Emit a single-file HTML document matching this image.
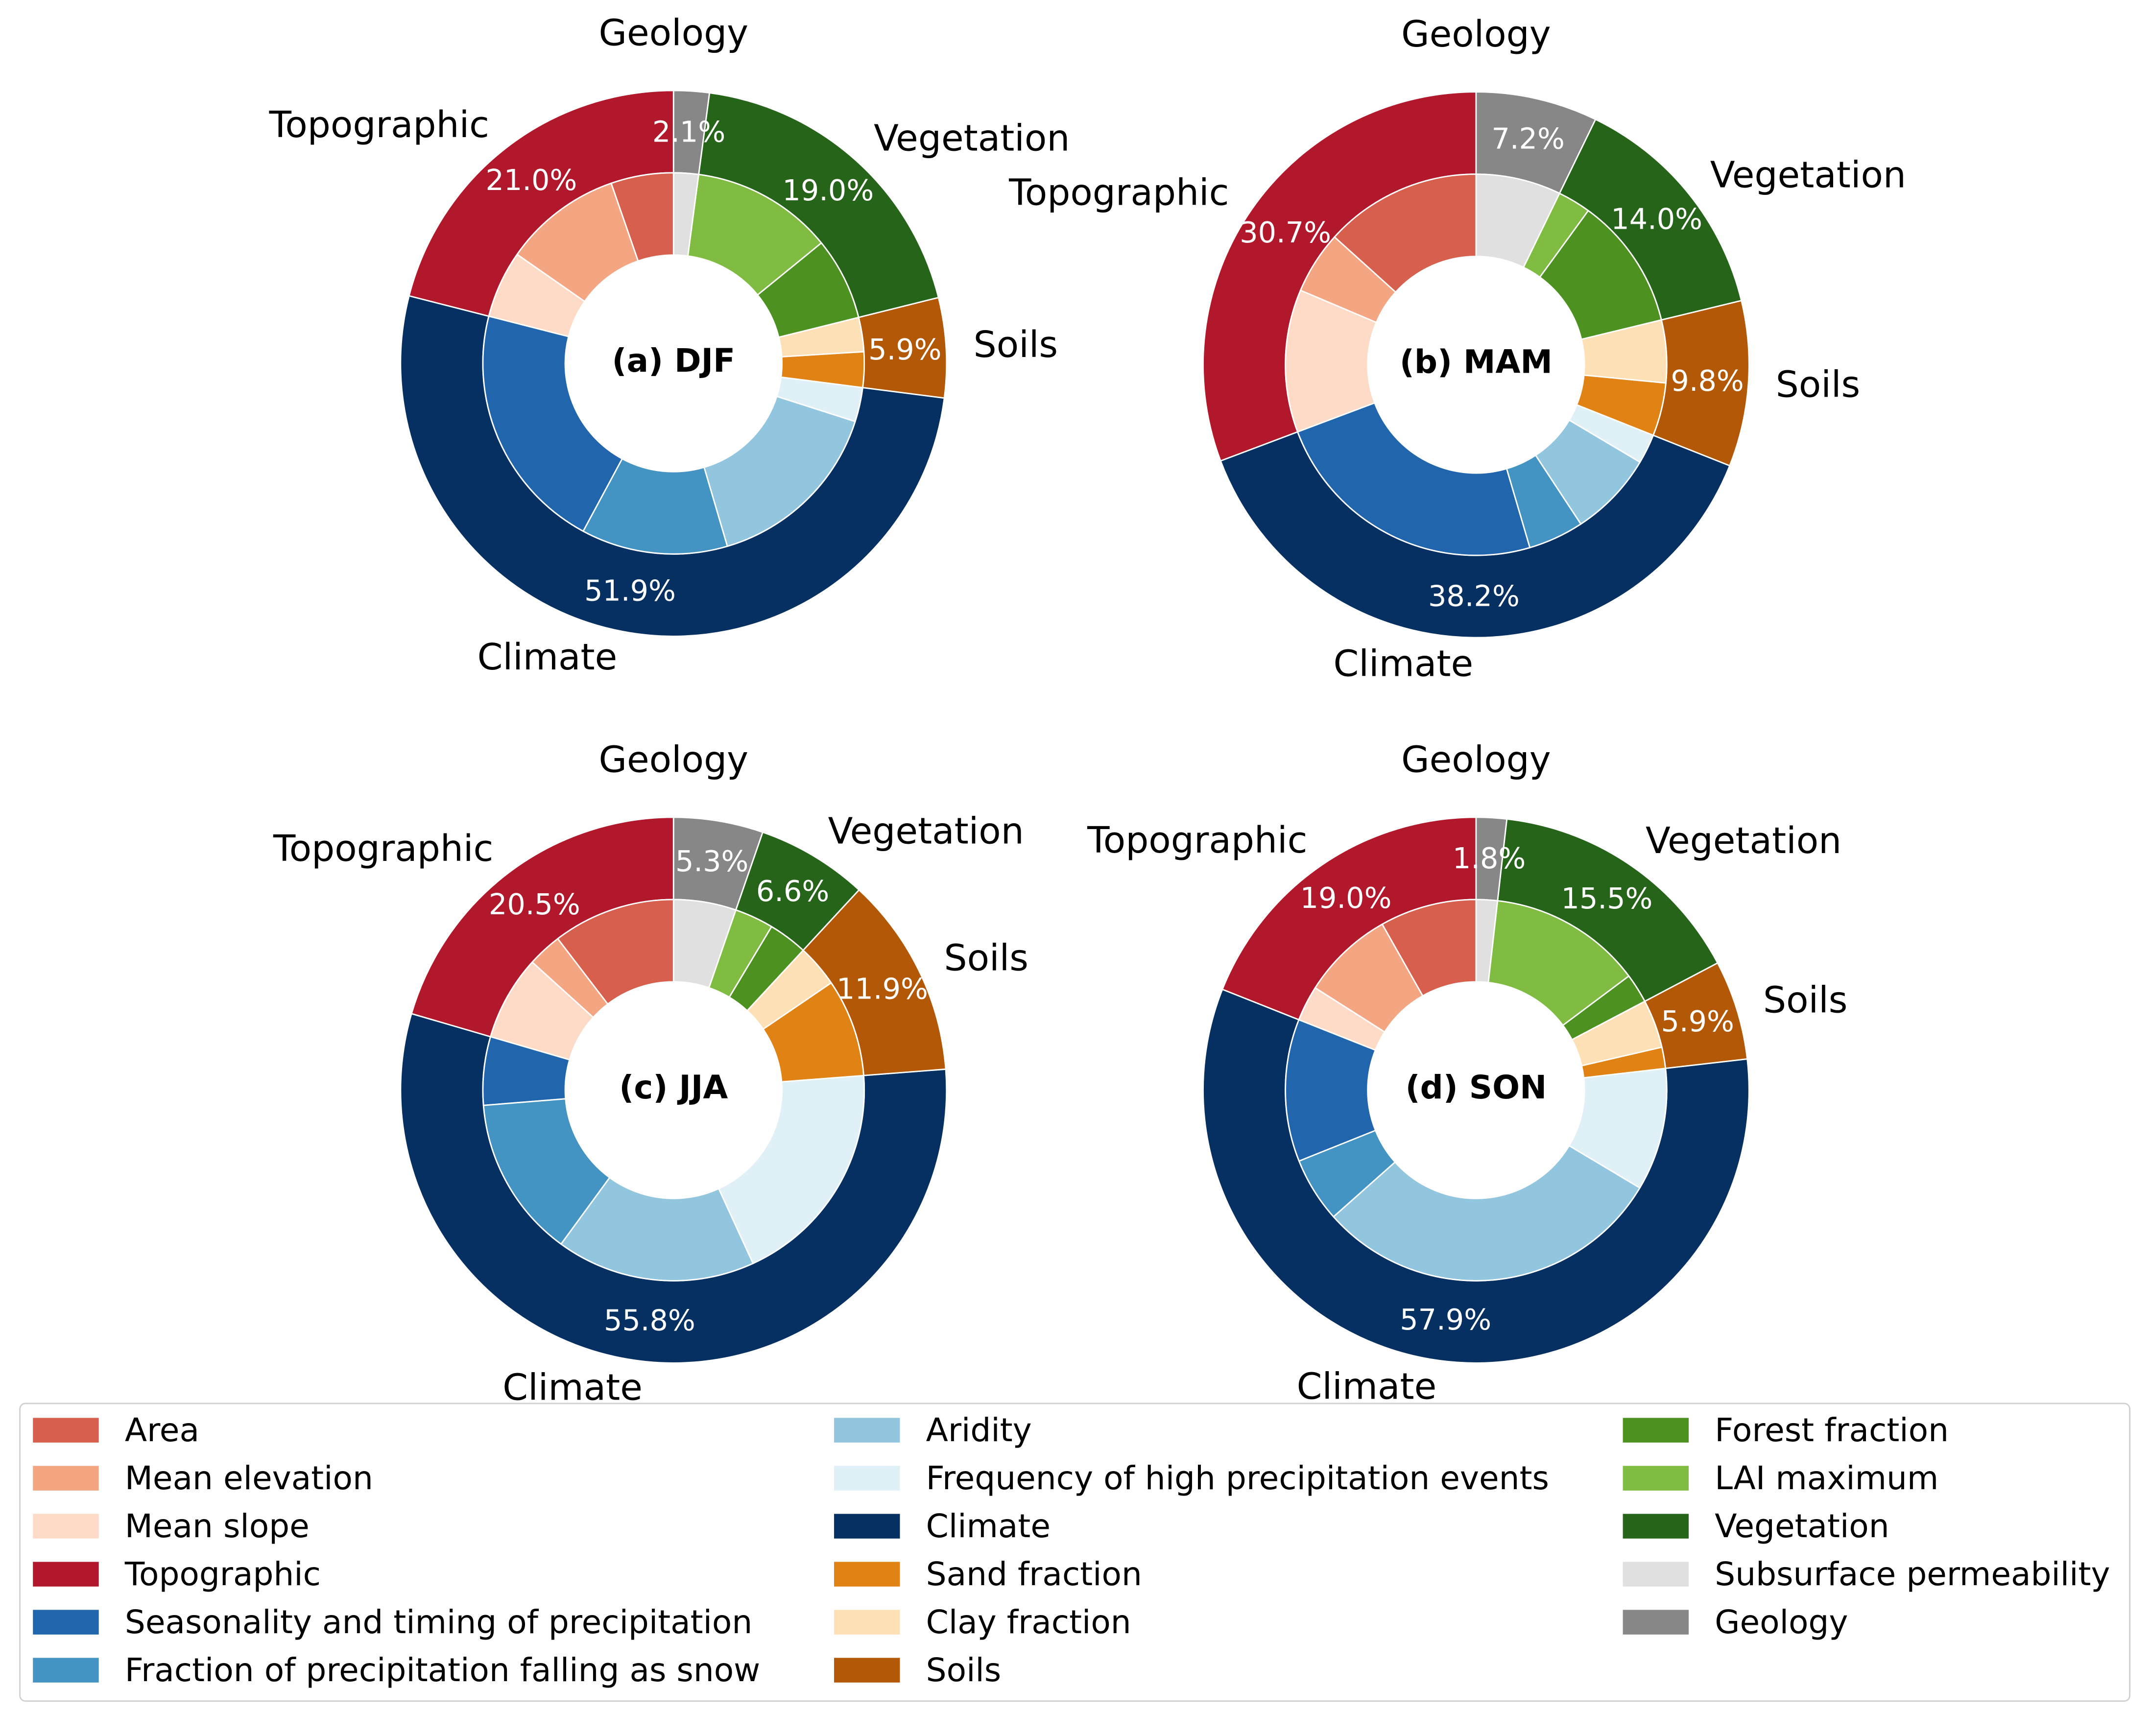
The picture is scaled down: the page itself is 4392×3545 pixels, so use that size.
<!DOCTYPE html>
<html><head><meta charset="utf-8">
<style>
html,body{margin:0;padding:0;background:#fff;}
svg{display:block;font-family:"DejaVu Sans","Liberation Sans",sans-serif;}
</style></head>
<body>
<svg id="fig" xmlns="http://www.w3.org/2000/svg" width="4392" height="3545" viewBox="0 0 1568 1266" preserveAspectRatio="none">
<rect width="1568" height="1266" fill="#fff"/>
<g id="charts"></g>
<g id="legend"></g>
</svg>
<script>
// Group categories (outer ring) and features (inner ring)
const groups = ["Topographic","Climate","Soils","Vegetation","Geology"];
const groupColors = ["#b2182b","#053061","#b35806","#26641a","#878787"];
const features = [["Area","Mean elevation","Mean slope"],
  ["Seasonality and timing of precipitation","Fraction of precipitation falling as snow","Aridity","Frequency of high precipitation events"],
  ["Sand fraction","Clay fraction"],["Forest fraction","LAI maximum"],["Subsurface permeability"]];
const featureColors = [["#d6604d","#f4a582","#fddbc7"],["#2166ac","#4393c3","#92c5de","#dff0f7"],["#e08214","#fee0b6"],["#4d9221","#7fbc41"],["#e0e0e0"]];
const panels = ["(a) DJF","(b) MAM","(c) JJA","(d) SON"];
// outer ring values (%)
const djfOuter = [21.0,51.9,5.9,19.0,2.1];
const mamOuter = [30.7,38.2,9.8,14.0,7.2];
const jjaOuter = [20.5,55.8,11.9,6.6,5.3];
const sonOuter = [19.0,57.9,5.9,15.5,1.8];
// inner ring values (%)
const djfInner = [[5.3,10.0,5.7],[21.1,12.4,15.5,2.9],[3.0,2.9],[7.0,12.0],[2.1]];
const mamInner = [[13.3,5.3,12.1],[23.8,4.7,7.2,2.5],[4.5,5.3],[11.2,2.8],[7.2]];
const jjaInner = [[10.4,2.9,7.2],[5.8,13.7,16.9,19.4],[8.3,3.6],[3.3,3.3],[5.3]];
const sonInner = [[8.2,7.8,3.0],[12.1,5.5,29.9,10.4],[1.8,4.1],[2.5,13.0],[1.8]];

const outerVals=[djfOuter,mamOuter,jjaOuter,sonOuter];
const innerVals=[djfInner,mamInner,jjaInner,sonInner];
const centers=[[491,265],[1076,266],[491,795],[1076,795]];
const R0=199,R1=139,R2=79;
const NS="http://www.w3.org/2000/svg";
function mk(tag,attrs,parent){const e=document.createElementNS(NS,tag);for(const k in attrs)e.setAttribute(k,attrs[k]);parent.appendChild(e);return e;}
function pt(cx,cy,r,a){const t=a*Math.PI/180;return [cx+r*Math.cos(t),cy-r*Math.sin(t)];}
function wedge(cx,cy,ro,ri,a0,a1){
  const large=(a1-a0)>180?1:0;
  const p0=pt(cx,cy,ro,a0),p1=pt(cx,cy,ro,a1),p2=pt(cx,cy,ri,a1),p3=pt(cx,cy,ri,a0);
  return `M${p0[0]},${p0[1]} A${ro},${ro} 0 ${large} 0 ${p1[0]},${p1[1]} L${p2[0]},${p2[1]} A${ri},${ri} 0 ${large} 1 ${p3[0]},${p3[1]} Z`;
}
const charts=document.getElementById('charts');
panels.forEach((title,pi)=>{
  const [cx,cy]=centers[pi];
  const g=mk('g',{},charts);
  
  
  const ov=outerVals[pi], tot=ov.reduce((a,b)=>a+b,0);
  let a=90;
  groups.forEach((gn,gi)=>{
    const span=ov[gi]/tot*360;
    const w=mk('path',{d:wedge(cx,cy,R0,R1,a,a+span),fill:groupColors[gi],stroke:'#fff','stroke-width':1},g);
    
    
    const iv=innerVals[pi][gi], itot=iv.reduce((x,y)=>x+y,0);
    let b=a;
    iv.forEach((v,fi)=>{
      const s=v/itot*span;
      const iw=mk('path',{d:wedge(cx,cy,R1,R2,b,b+s),fill:featureColors[gi][fi],stroke:'#fff','stroke-width':1},g);
      
      
      b+=s;
    });
    const mid=a+span/2;
    const pp=pt(cx,cy,169,mid);
    const pt_=mk('text',{x:pp[0],y:pp[1]+7,'text-anchor':'middle','font-size':21,fill:'#fff'},g);
    pt_.textContent=ov[gi].toFixed(1)+'%';
    
    
    let lt;
    if(gn==='Geology'){
      lt=mk('text',{x:cx,y:cy-241+9,'text-anchor':'middle','font-size':26.5,fill:'#000'},g);
    } else {
      const lp=pt(cx,cy,219,mid);
      const anchor=Math.cos(mid*Math.PI/180)>0?'start':'end';
      lt=mk('text',{x:lp[0],y:lp[1]+8,'text-anchor':anchor,'font-size':26.5,fill:'#000'},g);
    }
    lt.textContent=gn;
    
    
    a+=span;
  });
  const t=mk('text',{x:cx,y:cy+6,'text-anchor':'middle','font-size':23.5,'font-weight':'bold',fill:'#000'},g);
  t.textContent=title;
  
  
});
// legend
const legend=document.getElementById('legend');
mk('rect',{x:14.5,y:1023.5,width:1538,height:217,rx:4,fill:'#fff',stroke:'#d0d0d0','stroke-width':1},legend);
const entries=[];
groups.forEach((gn,gi)=>{features[gi].forEach((f,fi)=>entries.push([f,featureColors[gi][fi]]));entries.push([gn,groupColors[gi]]);});
const colX=[24,608,1183];
entries.forEach((e,i)=>{
  const col=Math.floor(i/6),row=i%6;
  const y=1043+row*35;
  const r=mk('rect',{x:colX[col],y:y-9,width:48,height:18,fill:e[1]},legend);
  
  
  const t=mk('text',{x:colX[col]+67,y:y+8,'font-size':23.6,fill:'#000'},legend);
  t.textContent=e[0];
  
  
});
</script>
</body></html>
